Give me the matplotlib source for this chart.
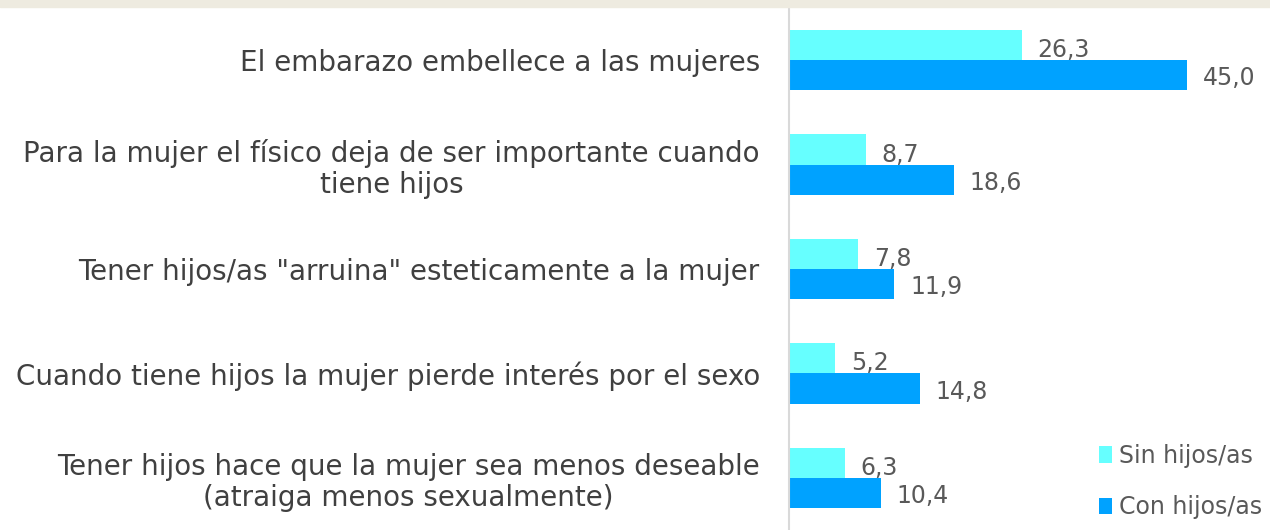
import numpy as np
import matplotlib.pyplot as plt
from matplotlib.patches import Rectangle

categorias = [
    'El embarazo embellece a las mujeres',
    'Para la mujer el físico deja de ser importante cuando\ntiene hijos',
    'Tener hijos/as "arruina" esteticamente a la mujer',
    'Cuando tiene hijos la mujer pierde interés por el sexo',
    'Tener hijos hace que la mujer sea menos deseable\n(atraiga menos sexualmente)',
]
sin_hijos = [26.3, 8.7, 7.8, 5.2, 6.3]
con_hijos = [45.0, 18.6, 11.9, 14.8, 10.4]
series = ['Sin hijos/as', 'Con hijos/as']
colores = ['#66FFFF', '#00A2FF']

plt.rcParams['font.family'] = ['DejaVu Sans']

fig = plt.figure(figsize=(12.7, 5.3), dpi=100)
# top beige band
fig.patches.append(Rectangle((0, 1 - 7 / 530), 1, 7 / 530, transform=fig.transFigure,
                             color='#EEEBE0', zorder=0))

ax = fig.add_axes([789 / 1270, 0, 481 / 1270, 522 / 530])

y = np.arange(len(categorias))
h = 0.29
ax.barh(y - h / 2, sin_hijos, height=h, color=colores[0], label=series[0])
ax.barh(y + h / 2, con_hijos, height=h, color=colores[1], label=series[1])

for yi, v in zip(y, sin_hijos):
    ax.text(v + 1.8, yi - h / 2 + 0.05, f'{v:.1f}'.replace('.', ','), va='center', ha='left',
            fontsize=17, color='#595959')
for yi, v in zip(y, con_hijos):
    ax.text(v + 1.8, yi + h / 2 + 0.03, f'{v:.1f}'.replace('.', ','), va='center', ha='left',
            fontsize=17, color='#595959')

ax.set_xlim(0, 481 / (398 / 45))
ax.set_ylim(len(categorias) - 0.5, -0.5)
ax.set_yticks(y)
ax.set_yticklabels(categorias, fontsize=20, color='#404040', ha='right',
                   multialignment='center', linespacing=1.15)
ax.tick_params(axis='y', length=0, pad=21)
ax.set_xticks([])
for s in ['top', 'right', 'bottom']:
    ax.spines[s].set_visible(False)
ax.spines['left'].set_color('#D9D9D9')
ax.spines['left'].set_linewidth(1.5)

ax.legend(loc='lower right', bbox_to_anchor=(1.028, -0.02), frameon=False, fontsize=17,
          labelcolor='#595959', handlelength=0.55, handleheight=0.7, handletextpad=0.3,
          labelspacing=1.17)

fig.savefig('out.png', dpi=100)
